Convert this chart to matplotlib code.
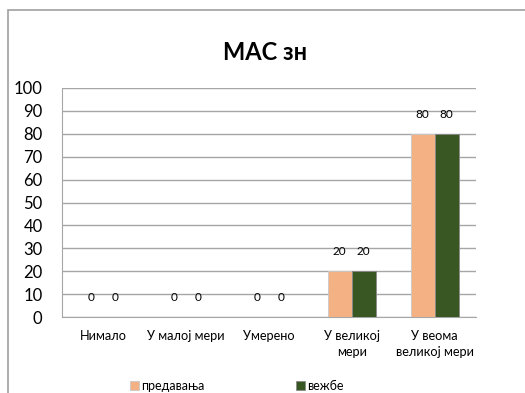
import matplotlib.pyplot as plt
import numpy as np
from matplotlib.patches import Rectangle

categories = ['Нимало', 'У малој мери', 'Умерено', 'У великој\nмери', 'У веома\nвеликој мери']
predavanja = [0, 0, 0, 20, 80]
vezbe = [0, 0, 0, 20, 80]
yticks = list(range(0, 101, 10))

plt.rcParams['font.family'] = ['Lato', 'DejaVu Sans']

fig = plt.figure(figsize=(5.25, 3.93), dpi=100)
ax = fig.add_axes([62 / 525, 1 - 317 / 393, (476 - 62) / 525, (317 - 88) / 393])

# outer chart frame (cut at right and bottom as in the original)
fig.patches.append(Rectangle((8 / 525, -0.1), 1.2, 1.1 - 10 / 393, transform=fig.transFigure,
                             fill=False, edgecolor='#a0a0a0', lw=1.2))

x = np.arange(len(categories))
w = 0.29
b1 = ax.bar(x - w / 2, predavanja, w, color='#f4b183', edgecolor='#c8c8c8', lw=0.6, label='предавања', zorder=3)
b2 = ax.bar(x + w / 2, vezbe, w, color='#385723', edgecolor='#8a8a8a', lw=0.6, label='вежбе', zorder=3)

for bars in (b1, b2):
    for r in bars:
        ax.annotate(f'{int(r.get_height())}', (r.get_x() + r.get_width() / 2, r.get_height()),
                    xytext=(0, 14), textcoords='offset points', ha='center', va='center', fontsize=8.5)

ax.set_xlim(-0.5, len(categories) - 0.5)
ax.set_ylim(0, 100)
ax.set_yticks(yticks)
ax.set_xticks(x)
ax.set_xticklabels(categories, fontsize=9.2, linespacing=1.45)
ax.tick_params(axis='y', length=0, labelsize=12, pad=14)
ax.tick_params(axis='x', length=0, pad=9)
for lbl in ax.get_yticklabels():
    lbl.set_horizontalalignment('right')
ax.grid(axis='y', color='#a6a6a6', lw=1, zorder=0)
for s in ['top', 'right']:
    ax.spines[s].set_visible(False)
ax.spines['left'].set_color('#a6a6a6')
ax.spines['bottom'].set_color('#a6a6a6')

fig.text(265 / 525, 1 - 52 / 393, 'МАС зн', ha='center', va='center', fontsize=17, fontweight='bold')

fig.legend(handles=[b1, b2], loc='center', bbox_to_anchor=(237 / 525, 1 - 386 / 393), ncol=2,
           frameon=False, fontsize=9, handlelength=0.7, handleheight=0.7, handletextpad=0.2,
           columnspacing=7.3)

fig.savefig('out.png', dpi=100)
